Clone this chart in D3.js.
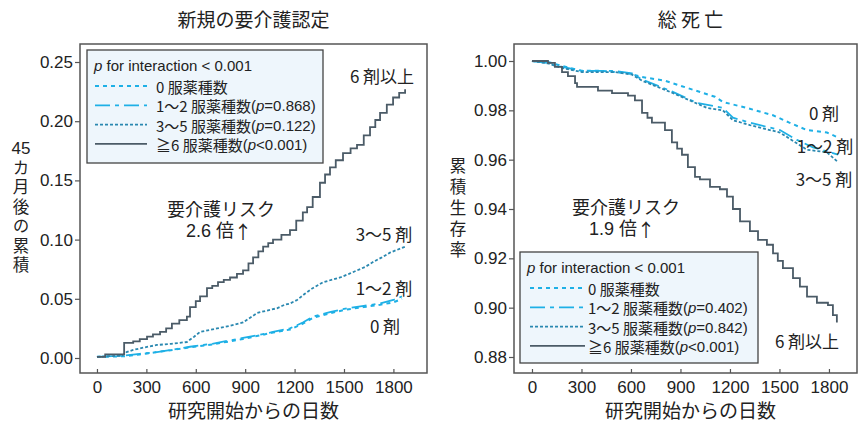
<!DOCTYPE html>
<html>
<head>
<meta charset="utf-8">
<script src="https://cdn.jsdelivr.net/npm/d3@7"></script>
<style>
  body { margin: 0; background: #fff; }
  svg text { font-family: "Liberation Sans", Arial, "Noto Sans CJK JP", sans-serif; fill: #222; }
  .jp { font-family: "Noto Sans CJK JP", sans-serif; }
</style>
</head>
<body>
<div id="chart"></div>
<script>
// ---- data (day, value) ----
const xTicks = [0, 300, 600, 900, 1200, 1500, 1800];
const careTicks = [0, 0.05, 0.10, 0.15, 0.20, 0.25];
const survTicks = [0.88, 0.90, 0.92, 0.94, 0.96, 0.98, 1.00];

const groupNames = ['0 服薬種数', '1〜2 服薬種数', '3〜5 服薬種数', '≧6 服薬種数'];
const careP = [null, '=0.868', '=0.122', '<0.001'];
const survP = [null, '=0.402', '=0.842', '<0.001'];

const care0 = [[0,0.001],[165,0.0015],[260,0.003],[364,0.005],[460,0.0068],[565,0.009],[700,0.0115],[887,0.016],[970,0.0185],[1069,0.0215],[1172,0.024],[1250,0.029],[1312,0.034],[1420,0.038],[1518,0.041],[1620,0.043],[1719,0.045],[1800,0.047],[1852,0.050]];
const care12 = [[0,0.001],[165,0.002],[260,0.0035],[364,0.005],[460,0.007],[565,0.0095],[700,0.012],[887,0.017],[970,0.019],[1069,0.022],[1172,0.025],[1250,0.030],[1312,0.035],[1420,0.039],[1518,0.042],[1620,0.044],[1719,0.046],[1800,0.049],[1852,0.052]];
const care35 = [[0,0.001],[152,0.002],[180,0.005],[220,0.0068],[290,0.009],[364,0.011],[450,0.012],[546,0.0135],[590,0.018],[626,0.022],[729,0.025],[800,0.027],[887,0.030],[930,0.034],[972,0.038],[1030,0.040],[1093,0.042],[1140,0.045],[1172,0.046],[1215,0.049],[1260,0.054],[1310,0.059],[1373,0.064],[1476,0.068],[1530,0.071],[1579,0.074],[1630,0.077],[1676,0.081],[1730,0.085],[1779,0.089],[1871,0.094]];
const care6 = [[0,0.001],[50,0.003],[155,0.003],[165,0.0127],[220,0.014],[260,0.016],[304,0.018],[340,0.020],[383,0.022],[420,0.025],[455,0.029],[500,0.032],[546,0.035],[565,0.043],[600,0.048],[626,0.052],[668,0.059],[700,0.061],[735,0.064],[770,0.066],[808,0.068],[850,0.071],[887,0.074],[920,0.080],[948,0.085],[980,0.090],[1009,0.094],[1040,0.097],[1069,0.100],[1120,0.104],[1172,0.108],[1210,0.116],[1250,0.123],[1276,0.1275],[1310,0.136],[1354,0.148],[1385,0.155],[1415,0.161],[1450,0.167],[1494,0.173],[1540,0.177],[1579,0.180],[1620,0.188],[1658,0.195],[1690,0.201],[1719,0.207],[1760,0.214],[1798,0.220],[1835,0.224],[1871,0.227]];

const surv0 = [[0,1.0],[97,0.9996],[182,0.998],[303,0.996],[424,0.996],[582,0.995],[667,0.9935],[806,0.992],[945,0.989],[1109,0.9855],[1157,0.9834],[1300,0.981],[1461,0.978],[1560,0.975],[1667,0.972],[1788,0.971],[1855,0.969]];
const surv12 = [[0,1.0],[97,0.9992],[182,0.9976],[303,0.996],[503,0.996],[606,0.995],[667,0.9925],[836,0.988],[1000,0.983],[1157,0.981],[1218,0.977],[1321,0.975],[1503,0.972],[1606,0.968],[1703,0.965],[1855,0.962]];
const surv35 = [[0,1.0],[97,0.999],[182,0.9972],[303,0.9955],[503,0.9955],[606,0.9945],[667,0.992],[836,0.9875],[1060,0.981],[1157,0.980],[1218,0.976],[1321,0.974],[1503,0.971],[1667,0.964],[1788,0.963],[1855,0.959]];
const surv6 = [[0,1.000],[97,0.9992],[139,0.9976],[182,0.9955],[218,0.9939],[261,0.991],[273,0.9895],[400,0.988],[485,0.987],[582,0.986],[624,0.984],[667,0.979],[700,0.977],[727,0.975],[806,0.972],[848,0.967],[880,0.9645],[909,0.962],[945,0.957],[988,0.953],[1018,0.952],[1079,0.949],[1139,0.948],[1182,0.945],[1218,0.940],[1261,0.935],[1321,0.931],[1370,0.9275],[1424,0.9255],[1461,0.922],[1490,0.919],[1521,0.916],[1582,0.912],[1624,0.9085],[1667,0.9045],[1727,0.902],[1794,0.901],[1824,0.897],[1848,0.894]];

// line styles per group
const styles = [
  { color: '#1eb0e6', dash: '4,4', width: 2 },
  { color: '#1eb0e6', dash: '15,5,4,5', width: 1.8 },
  { color: '#2a88b0', dash: '3,2', width: 1.8 },
  { color: '#4b5b67', dash: null, width: 1.8 }
];

const svg = d3.select('#chart').append('svg')
  .attr('width', 858).attr('height', 428);

function panel(opt) {
  const g = svg.append('g');
  const x = d3.scaleLinear().domain(opt.xDomain).range([opt.left, opt.right]);
  const y = d3.scaleLinear().domain(opt.yDomain).range(opt.yRange);

  // frame
  g.append('rect')
    .attr('x', opt.left).attr('y', opt.top)
    .attr('width', opt.right - opt.left).attr('height', opt.bottom - opt.top)
    .attr('fill', 'none').attr('stroke', '#555').attr('stroke-width', 1.5);

  // y axis
  const ya = g.append('g')
    .attr('transform', `translate(${opt.left},0)`)
    .call(d3.axisLeft(y).tickValues(opt.yTicks).tickSize(5).tickPadding(2).tickFormat(d3.format(opt.yFmt)));
  ya.select('.domain').remove();
  ya.selectAll('line').attr('stroke', '#555').attr('stroke-width', 1.2);
  ya.selectAll('text').attr('font-size', 17).attr('fill', '#222')
    .style('font-family', '"Liberation Sans", Arial, sans-serif');

  // x axis (ticks inward)
  const xa = g.append('g')
    .attr('transform', `translate(0,${opt.bottom})`)
    .call(d3.axisBottom(x).tickValues(xTicks).tickSize(-4).tickPadding(8).tickFormat(d3.format('d')));
  xa.select('.domain').remove();
  xa.selectAll('line').attr('stroke', '#555').attr('stroke-width', 1.2);
  xa.selectAll('text').attr('font-size', 17).attr('fill', '#222')
    .style('font-family', '"Liberation Sans", Arial, sans-serif');

  // curves
  opt.series.forEach((s, i) => {
    const st = styles[i];
    g.append('path')
      .datum(s)
      .attr('fill', 'none')
      .attr('stroke', st.color)
      .attr('stroke-width', st.width)
      .attr('stroke-dasharray', st.dash)
      .attr('d', d3.line()
        .curve(i === 3 ? d3.curveStepAfter : d3.curveLinear)
        .x(d => x(d[0]))
        .y(d => y(d[1])));
  });

  // titles
  const cx = (opt.left + opt.right) / 2 + opt.titleShift;
  g.append('text').attr('class', 'jp').attr('x', cx).attr('y', 27)
    .attr('text-anchor', 'middle').attr('font-size', 19).text(opt.title);
  g.append('text').attr('x', cx).attr('y', 418)
    .attr('text-anchor', 'middle').attr('font-size', 19).text('研究開始からの日数');

  // y label: optional horizontal head + vertical text
  if (opt.yHead) {
    g.append('text').attr('x', opt.yLabelX).attr('y', opt.yHeadY)
      .attr('text-anchor', 'middle').attr('font-size', 17)
      .style('font-family', '"Liberation Sans", Arial, sans-serif')
      .text(opt.yHead);
  }
  g.append('text').attr('class', 'jp')
    .attr('x', opt.yLabelX).attr('y', opt.yLabelY0)
    .style('writing-mode', 'vertical-rl')
    .style('letter-spacing', opt.yLabelGap + 'px')
    .attr('font-size', 16.5)
    .text(opt.yLabel);

  // group labels
  opt.labels.forEach(l => {
    g.append('text').attr('class', 'jp').attr('x', l[1]).attr('y', l[2])
      .attr('text-anchor', 'middle').attr('dominant-baseline', 'central')
      .attr('font-size', 17).text(l[0]);
  });

  // risk note (arrow glyph taken from the CJK font)
  opt.note.forEach(l => {
    const t = g.append('text').attr('x', l[1]).attr('y', l[2])
      .attr('text-anchor', 'middle').attr('dominant-baseline', 'central')
      .attr('font-size', 18);
    const parts = l[0].split('↑');
    t.append('tspan').text(parts[0]);
    if (parts.length > 1) t.append('tspan').attr('class', 'jp').text('↑');
  });

  // legend
  const L = opt.legend;
  const lg = g.append('g');
  lg.append('rect').attr('x', L.x).attr('y', L.y).attr('width', L.w).attr('height', L.h)
    .attr('fill', '#eef6fc').attr('stroke', '#444').attr('stroke-width', 1.3);
  const t0 = lg.append('text').attr('x', L.x + 7).attr('y', L.y + 15)
    .attr('dominant-baseline', 'central').attr('font-size', 15);
  t0.append('tspan').attr('font-style', 'italic').text('p');
  t0.append('tspan').text(' for interaction < 0.001');
  groupNames.forEach((name, i) => {
    const yy = L.y + 36 + i * 19.3;
    const st = styles[i];
    lg.append('line')
      .attr('x1', L.x + L.lineX0).attr('x2', L.x + L.lineX1)
      .attr('y1', yy).attr('y2', yy)
      .attr('stroke', st.color).attr('stroke-width', st.width)
      .attr('stroke-dasharray', st.dash);
    const t = lg.append('text').attr('x', L.x + L.textX).attr('y', yy)
      .attr('dominant-baseline', 'central').attr('font-size', 15);
    t.append('tspan').attr('class', 'jp').text(name);
    if (L.p[i]) {
      t.append('tspan').text('(');
      t.append('tspan').attr('font-style', 'italic').text('p');
      t.append('tspan').text(L.p[i] + ')');
    }
  });
}

panel({
  left: 80, right: 427, top: 44, bottom: 373,
  xDomain: [-103, 2004],
  yDomain: [0, 0.25], yRange: [358, 62], yTicks: careTicks, yFmt: '.2f',
  series: [care0, care12, care35, care6],
  title: '新規の要介護認定', titleShift: 0,
  yHead: '45', yHeadY: 154,
  yLabel: 'カ月後の累積', yLabelX: 21, yLabelY0: 159, yLabelGap: 3,
  labels: [['6 剤以上', 382, 75], ['3〜5 剤', 384, 233], ['1〜2 剤', 384, 287], ['0 剤', 385, 325]],
  note: [['要介護リスク', 221, 210], ['2.6 倍↑', 219, 231]],
  legend: { x: 87, y: 50, w: 236, h: 113, lineX0: 8, lineX1: 60, textX: 69, p: careP }
});

panel({
  left: 514, right: 857, top: 44, bottom: 373,
  xDomain: [-109, 1970],
  yDomain: [0.88, 1.00], yRange: [357, 61], yTicks: survTicks, yFmt: '.2f',
  series: [surv0, surv12, surv35, surv6],
  title: '総 死 亡', titleShift: 5,
  yHead: null,
  yLabel: '累積生存率', yLabelX: 458, yLabelY0: 157, yLabelGap: 4.7,
  labels: [['0 剤', 824, 112], ['1〜2 剤', 825, 145], ['3〜5 剤', 824, 178], ['6 剤以上', 807, 340]],
  note: [['要介護リスク', 626, 208], ['1.9 倍↑', 622, 229]],
  legend: { x: 520, y: 252, w: 238, h: 111, lineX0: 10, lineX1: 65, textX: 68, p: survP }
});
</script>
</body>
</html>
